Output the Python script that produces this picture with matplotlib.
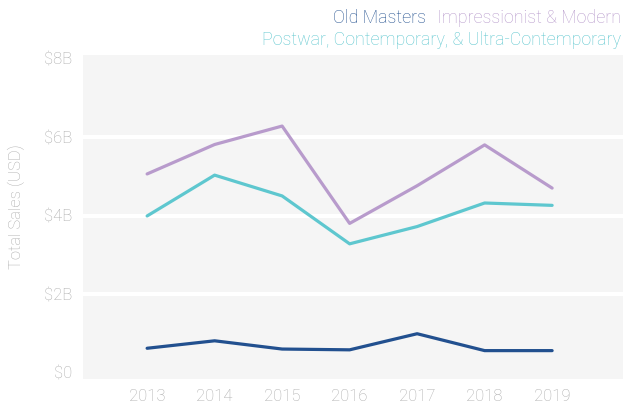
import matplotlib
matplotlib.use("Agg")
import matplotlib.pyplot as plt

years = [2013, 2014, 2015, 2016, 2017, 2018, 2019]
old_masters = [0.63, 0.82, 0.61, 0.59, 1.00, 0.57, 0.57]
impressionist = [5.07, 5.82, 6.29, 3.81, 4.77, 5.81, 4.71]
postwar = [4.00, 5.04, 4.51, 3.29, 3.73, 4.33, 4.27]
y_ticks = [0, 2, 4, 6, 8]
y_tick_labels = ["$0", "$2B", "$4B", "$6B", "$8B"]

c_old = "#22508f"
c_imp = "#b89bcc"
c_post = "#5ec7cf"
grey = "#ababab"

plt.rcParams['font.family'] = ['Roboto', 'DejaVu Sans']
W_ = 'light'

fig = plt.figure(figsize=(6.27, 4.03), dpi=100)
W, H = 627, 403
left, right, top, bottom = 83, 623, 55, 379
ax = fig.add_axes([left / W, 1 - bottom / H, (right - left) / W, (bottom - top) / H])
ax.set_facecolor("#f5f5f5")

ax.plot(years, impressionist, color=c_imp, lw=2.3, solid_capstyle='round', zorder=3)
ax.plot(years, postwar, color=c_post, lw=2.3, solid_capstyle='round', zorder=3)
ax.plot(years, old_masters, color=c_old, lw=2.3, solid_capstyle='round', zorder=3)

ax.set_xlim(2012.05, 2020.05)
ax.set_ylim(-0.153, 8.10)
ax.set_xticks(years)
ax.set_xticklabels([str(y) for y in years])
ax.set_yticks(y_ticks)
ax.set_yticklabels(y_tick_labels)
ax.tick_params(length=0, colors=grey, labelsize=12)
ax.tick_params(axis='y', pad=8)
ax.tick_params(axis='x', pad=7)
for lbl in ax.get_xticklabels() + ax.get_yticklabels():
    lbl.set_fontweight(W_)
for s in ax.spines.values():
    s.set_visible(False)
ax.grid(axis='y', color='white', lw=3)
ax.set_axisbelow(True)
for gl, t in zip(ax.get_ygridlines(), y_ticks):
    if t in (0, 8):
        gl.set_visible(False)

fig.text(16 / W, 1 - 207 / H, "Total Sales (USD)", rotation=90, ha='center', va='center',
         color=grey, fontsize=12, fontweight=W_)

fs = 12.9
fig.text(621 / W, 1 - 18 / H, "Impressionist & Modern", ha='right', va='center',
         color=c_imp, fontsize=fs, fontweight=W_)
fig.text(426 / W, 1 - 18 / H, "Old Masters", ha='right', va='center',
         color=c_old, fontsize=fs, fontweight=W_)
fig.text(621 / W, 1 - 40 / H, "Postwar, Contemporary, & Ultra-Contemporary", ha='right', va='center',
         color=c_post, fontsize=fs, fontweight=W_)

fig.savefig("out.png", dpi=100)
